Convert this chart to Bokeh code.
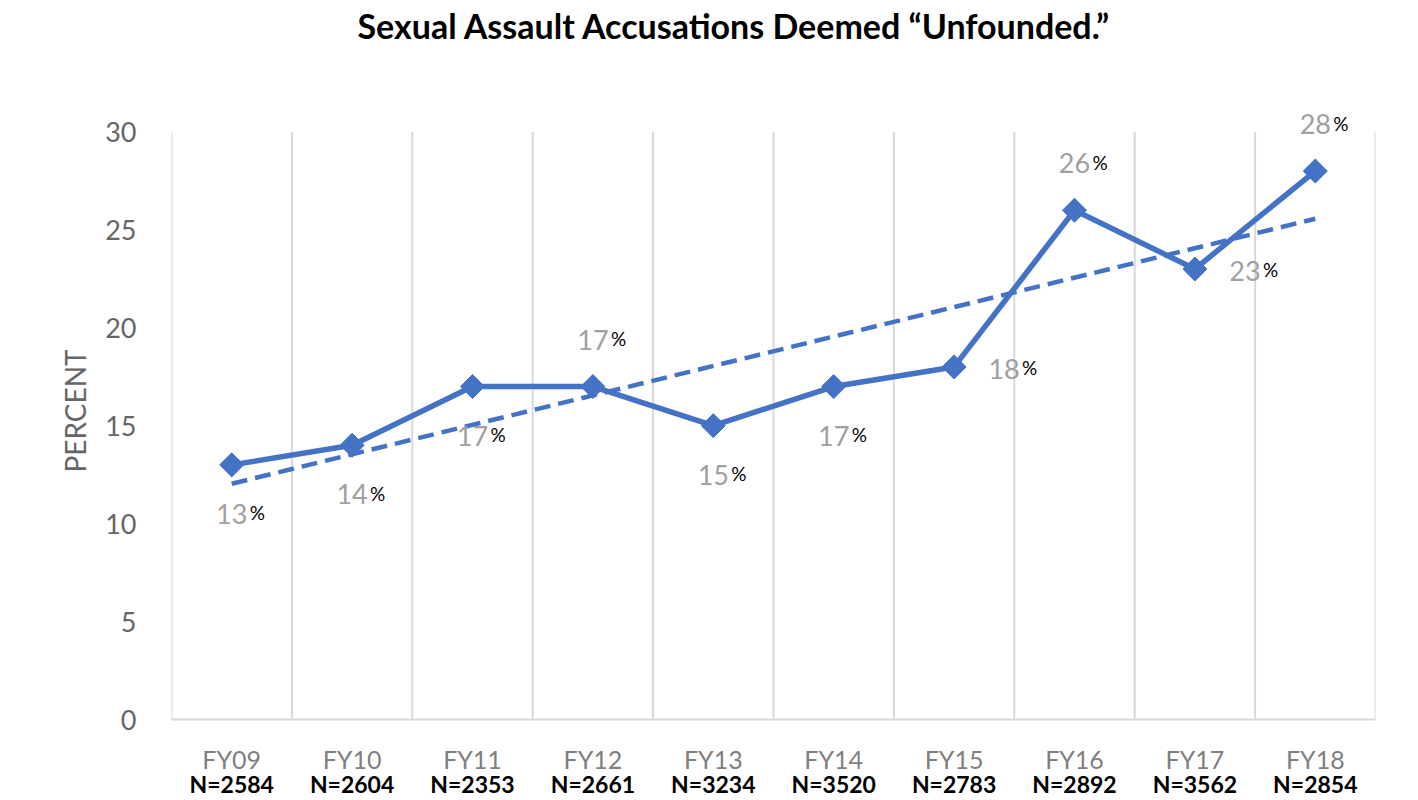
import numpy as np
from bokeh.plotting import figure
from bokeh.models import (ColumnDataSource, Range1d, FixedTicker, LinearAxis,
                          LabelSet, CustomJSTickFormatter, Title)
from bokeh.core.properties import value
from bokeh.embed import file_html
from bokeh.resources import INLINE

# ---- data ----
fiscal_years = ["FY09", "FY10", "FY11", "FY12", "FY13", "FY14", "FY15", "FY16", "FY17", "FY18"]
case_counts = [2584, 2604, 2353, 2661, 3234, 3520, 2783, 2892, 3562, 2854]
unfounded_pct = [13, 14, 17, 17, 15, 17, 18, 26, 23, 28]
label_side = ["below", "below", "below", "above", "below", "below", "right", "above", "right", "above"]
y_ticks = [0, 5, 10, 15, 20, 25, 30]

BLUE = "#4472C4"
GRID = "#D9D9D9"
TXT = "#595959"
FONT = "Lato"

n = len(fiscal_years)
xpos = np.arange(n) + 0.5
n_labels = ["N=%d" % c for c in case_counts]
y_top = y_ticks[-1]

# linear trendline (Excel-style least squares over the series)
slope, intercept = np.polyfit(np.arange(n), unfounded_pct, 1)
trend_x = [xpos[0], xpos[-1]]
trend_y = [intercept, intercept + slope * (n - 1)]

p = figure(width=1418, height=800, x_range=Range1d(0, n), y_range=Range1d(0, y_top + 1.5),
           output_backend="svg", toolbar_location=None,
           min_border_left=171, min_border_right=43, min_border_top=102, min_border_bottom=10)
p.outline_line_color = None
p.background_fill_color = "white"
p.border_fill_color = "white"

# title, lifted to the top of the canvas by a blank spacer next to the frame
p.title.text = "Sexual Assault Accusations Deemed \u201cUnfounded.\u201d"
p.title.text_font = FONT
p.title.text_font_size = "34px"
p.title.text_font_style = "bold"
p.title.text_color = "black"
p.title.align = "left"
p.title.offset = 186
p.title.standoff = 0
p.add_layout(Title(text="\u00a0", text_font=FONT, text_font_size="34px", standoff=14), "above")

# grid: vertical category boundaries only, from 0 to the top tick
p.xgrid.grid_line_color = None
p.ygrid.grid_line_color = None
bounds = np.arange(n + 1)
p.segment(x0=bounds, y0=[0] * (n + 1), x1=bounds, y1=[y_top] * (n + 1),
          line_color=GRID, line_width=2)

# x axis (fiscal years)
xa = p.xaxis[0]
xa.ticker = FixedTicker(ticks=list(xpos))
xa.formatter = CustomJSTickFormatter(args=dict(labels=fiscal_years),
                                     code="return labels[Math.floor(tick)];")
xa.axis_line_color = GRID
xa.axis_line_width = 2
xa.major_tick_line_color = None
xa.minor_tick_line_color = None
xa.major_label_text_font = FONT
xa.major_label_text_font_size = "25px"
xa.major_label_text_color = "#7F7F7F"
xa.major_label_standoff = 18
xa.axis_label_standoff = 0

# second x axis (N counts)
xa2 = LinearAxis(ticker=FixedTicker(ticks=list(xpos)),
                 formatter=CustomJSTickFormatter(args=dict(labels=n_labels),
                                                 code="return labels[Math.floor(tick)];"))
xa2.axis_line_color = None
xa2.major_tick_line_color = None
xa2.minor_tick_line_color = None
xa2.major_label_text_font = FONT
xa2.major_label_text_font_size = "23px"
xa2.major_label_text_font_style = "bold"
xa2.major_label_text_color = "black"
xa2.major_label_standoff = -13
xa2.axis_label_standoff = 0
p.add_layout(xa2, "below")

# y axis
ya = p.yaxis[0]
ya.ticker = FixedTicker(ticks=y_ticks)
ya.axis_line_color = None
ya.major_tick_line_color = None
ya.minor_tick_line_color = None
ya.major_label_text_font = FONT
ya.major_label_text_font_size = "27px"
ya.major_label_text_color = "#666666"
ya.major_label_standoff = 29
ya.axis_label = "PERCENT"
ya.axis_label_text_font = FONT
ya.axis_label_text_font_size = "28px"
ya.axis_label_text_font_style = "normal"
ya.axis_label_text_color = "#666666"
ya.axis_label_standoff = 10

# series
p.line(trend_x, trend_y, line_color=BLUE, line_width=4.5, line_dash="16 8")
p.line(xpos, unfounded_pct, line_color=BLUE, line_width=5.5)
p.scatter(xpos, unfounded_pct, marker="square", angle=np.pi / 4, size=17,
          fill_color=BLUE, line_color=BLUE)

# data labels
dx = {"below": 0, "above": 0, "right": 50}
dy = {"below": -49, "above": 47, "right": -2}
src = ColumnDataSource(dict(
    x=xpos, y=unfounded_pct,
    num=[str(v) for v in unfounded_pct],
    pct=["%"] * n,
    dx=[dx[s] for s in label_side],
    dy=[dy[s] for s in label_side],
    pdx=[dx[s] + 18 for s in label_side],
    pdy=[dy[s] + 1 for s in label_side],
))
p.add_layout(LabelSet(x="x", y="y", text="num", x_offset="dx", y_offset="dy", source=src,
                      text_align="center", text_baseline="middle",
                      text_font=value(FONT), text_font_size="27px", text_color="#A0A0A0"))
p.add_layout(LabelSet(x="x", y="y", text="pct", x_offset="pdx", y_offset="pdy", source=src,
                      text_align="left", text_baseline="middle",
                      text_font=value(FONT), text_font_size="19px", text_color="black"))

open("out.html", "w").write(file_html(p, INLINE))
